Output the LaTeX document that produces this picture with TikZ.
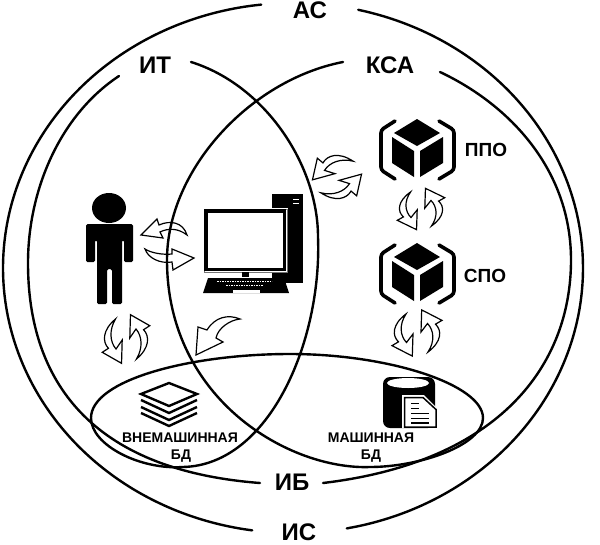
\documentclass[tikz,border=0pt]{standalone}
\usepackage{fontspec}
\setmainfont{Liberation Sans}
\tikzset{
 ring/.style={line width=2.4pt,line cap=round,line join=round,black},
 outl/.style={line width=1.2pt,line join=miter,draw=black,fill=white},
 big/.style={font=\bfseries\fontsize{24}{24}\selectfont,inner sep=0pt},
 mid/.style={font=\bfseries\fontsize{19}{19}\selectfont,inner sep=0pt},
 small/.style={font=\bfseries\fontsize{14}{14}\selectfont,inner sep=0pt},
 ink/.style={fill=black,draw=none}
}
\newcommand\halfarrow{%
 \path[outl] (4.7,-24.3) -- (25,-13.3) -- (18.5,-9.3)
  .. controls (25,-3) and (25,9) .. (11,20)
  .. controls (18,9) and (17,-3) .. (10.5,-10)
  -- (4,-1) -- cycle;}
\newcommand\swaparrows[5]{%
 \begin{scope}[shift={(#1,#2)},rotate=#3,xscale=#4,yscale=#5]
  \halfarrow
  \begin{scope}[rotate=180]\halfarrow\end{scope}
 \end{scope}}
\newcommand\cubeicon[2]{%
 \begin{scope}[shift={(#1,#2)}]
  \fill (417,119) -- (440,133) -- (417,146) -- (394,133) -- cycle;
  \fill (392,137) -- (414,151) -- (414,177) -- (392,163) -- cycle;
  \fill (420,151) -- (443,137) -- (443,163) -- (420,177) -- cycle;
  \draw[line width=3.6pt,line cap=round,rounded corners=3pt] (395,121) -- (381,130) -- (381,170) -- (395,179);
  \draw[line width=3.6pt,line cap=round,rounded corners=3pt] (439,121) -- (454,130) -- (454,170) -- (439,179);
 \end{scope}}
\begin{document}
\begin{tikzpicture}[x=1pt,y=-1pt]
\useasboundingbox (0,0) rectangle (600,544);
% interaction arrows
\swaparrows{126}{339}{0}{.95}{1}
\swaparrows{421}{209}{0}{.95}{.85}
\swaparrows{417}{333}{0}{1}{.95}
\swaparrows{337}{177}{-73}{.95}{1}
\path[outl] (141,235) -- (157,219) -- (159,225) .. controls (170,220) and (183,222) .. (187,235)
  .. controls (178,228) and (168,228) .. (160,232) -- (163,238) -- cycle;
\path[outl] (194,258) -- (172,249) -- (172,254) .. controls (163,255) and (151,253) .. (145,249)
  .. controls (148,258) and (160,264) .. (172,262) -- (173,270) -- cycle;
\path[outl] (196,355) -- (198,327) -- (207,330) .. controls (215,317) and (228,314) .. (240,319)
  .. controls (230,320) and (218,328) .. (216,338) -- (223,342) -- cycle;
% rings
\draw[ring] plot[domain=-77:79.3,samples=90,smooth] ({293+290*cos(\x)},{268+265*sin(\x)});
\draw[ring] plot[domain=98.1:263.7,samples=90,smooth] ({293+290*cos(\x)},{268+265*sin(\x)});
\draw[ring] (119,76) .. controls (60,115) and (28,190) .. (28,263) .. controls (28,380) and (90,470) .. (260,483);
\draw[ring] (440,72) .. controls (510,105) and (571,170) .. (571,260) .. controls (571,365) and (500,462) .. (323,483);
\draw[ring] (191,62) .. controls (265,85) and (318,165) .. (318,237)
  .. controls (322,340) and (270,465) .. (183,467)
  .. controls (140,470) and (91,445) .. (91,418)
  .. controls (91,380) and (190,354) .. (290,354)
  .. controls (390,354) and (483,385) .. (483,418)
  .. controls (483,445) and (420,467) .. (370,467)
  .. controls (290,470) and (167,400) .. (167,260)
  .. controls (167,170) and (250,80) .. (343,62);
% person
\fill (109,208) ellipse [x radius=17,y radius=15];
\path[ink,rounded corners=1.5pt] (86,224) -- (133,224) -- (133,262) -- (124,262) -- (124,240) -- (122,240) -- (122,304) -- (112,304) -- (112,269) -- (107,269) -- (107,304) -- (97,304) -- (97,240) -- (95,240) -- (95,262) -- (86,262) -- cycle;
% computer
\fill (272,194) rectangle (303,283);
\draw[white,line width=1pt] (293,199) -- (299,199) (293,203) -- (299,203);
\fill[white] (203,208) rectangle (288,273);
\draw[black!55,line width=1pt] (204,209) rectangle (287,272);
\fill (204,209) rectangle (286,271);
\fill[white] (208,213) rectangle (283,268);
\fill (242,272) rectangle (249,277);
\fill (208,278) -- (284,278) -- (289,293) -- (203,293) -- cycle;
\draw[white,line width=1.4pt,dash pattern=on 1.6pt off .9pt] (217,281.5) -- (272,281.5) (226,285.5) -- (263,285.5);
\fill[white] (233,289.5) rectangle (260,292.5);
% cubes
\cubeicon{0}{0}
\cubeicon{0}{124}
% stack
\draw[line width=2.4pt,line join=miter] (169,383) -- (197,394) -- (169,406) -- (141,394) -- cycle;
\draw[line width=2.4pt] (141,400) -- (169,413) -- (197,400);
\draw[line width=2.4pt] (141,407) -- (169,420) -- (197,407);
\draw[line width=2.4pt] (141,413) -- (169,426) -- (197,413);
% database
\fill[rounded corners=7pt] (383,392) -- (383,377) -- (435,377) -- (435,392) -- (435,428) -- (383,428) -- cycle;
\fill[white] (408,383) ellipse [x radius=21,y radius=5];
\fill[white] (402,395) -- (424,395) -- (438,409) -- (438,428) -- (402,428) -- cycle;
\path[draw=black,line width=1.5pt,fill=white] (404.5,397.5) -- (423,397.5) -- (436,409.5) -- (436,427) -- (404.5,427) -- cycle;
\draw[line width=1.7pt] (411,403.5) -- (419,403.5) (411,408.5) -- (419,408.5) (411,413.5) -- (429,413.5) (411,418.5) -- (429,418.5) (411,423) -- (429,423);
% labels
\node[big] (as) at (310,10) {АС};
\node[big] (it) at (155,65) {ИТ};
\node[big] (ksa) at (390,65) {КСА};
\node[big] (ib) at (292,482) {ИБ};
\node[big] (is) at (299,532) {ИС};
\node[mid] (ppo) at (486,150) {ППО};
\node[mid] (spo) at (485,276) {СПО};
\node[small] (vn) at (180,438) {ВНЕМАШИННАЯ};
\node[small] (vnb) at (181,456) {БД};
\node[small] (ma) at (371,438) {МАШИННАЯ};
\node[small] (mab) at (371,456) {БД};
\end{tikzpicture}
\end{document}
